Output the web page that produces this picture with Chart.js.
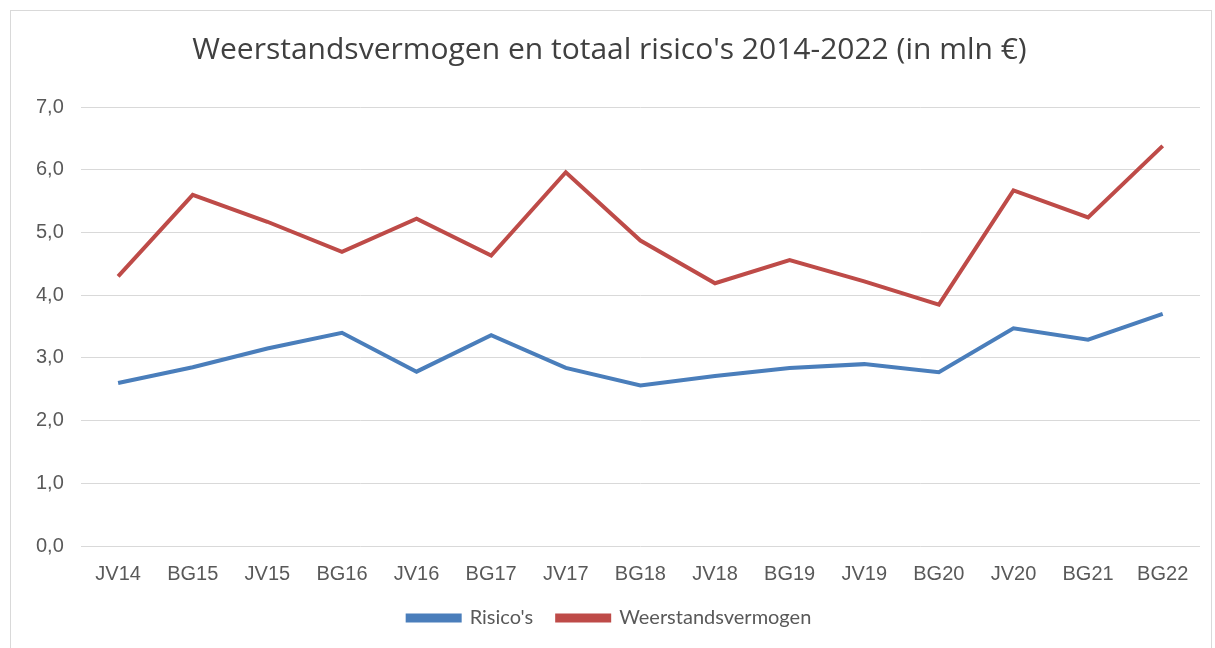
<!DOCTYPE html>
<html>
<head>
<meta charset="utf-8">
<script src="https://cdn.jsdelivr.net/npm/chart.js@4.4.1/dist/chart.umd.min.js"></script>
<style>
  html, body { margin: 0; padding: 0; background: #fff; }
  #wrap { position: relative; width: 1215px; height: 648px; }
</style>
</head>
<body>
<div id="wrap"><canvas id="chartRisico"></canvas></div>
<script>
  var categories = ['JV14', 'BG15', 'JV15', 'BG16', 'JV16', 'BG17', 'JV17', 'BG18', 'JV18', 'BG19', 'JV19', 'BG20', 'JV20', 'BG21', 'BG22'];
  var risicos = [2.60, 2.85, 3.15, 3.40, 2.78, 3.36, 2.84, 2.56, 2.71, 2.84, 2.90, 2.77, 3.47, 3.29, 3.70];
  var weerstand = [4.30, 5.60, 5.17, 4.69, 5.22, 4.63, 5.96, 4.87, 4.19, 4.56, 4.22, 3.85, 5.67, 5.24, 6.38];
  var yTickLabels = ['0,0', '1,0', '2,0', '3,0', '4,0', '5,0', '6,0', '7,0'];

  // kader rond de grafiek
  var kader = {
    id: 'kader',
    beforeDraw: function (chart) {
      var ctx = chart.ctx;
      ctx.save();
      ctx.strokeStyle = '#d9d9d9';
      ctx.lineWidth = 1;
      ctx.strokeRect(10.5, 10.5, 1201, 660);
      ctx.restore();
    }
  };

  var ctx = document.getElementById('chartRisico');
  new Chart(ctx, {
    type: 'line',
    data: {
      labels: categories,
      datasets: [
        {
          label: "Risico's",
          data: risicos,
          borderColor: '#4a7ebb',
          backgroundColor: '#4a7ebb',
          borderWidth: 4,
          pointRadius: 0,
          tension: 0
        },
        {
          label: 'Weerstandsvermogen',
          data: weerstand,
          borderColor: '#be4b48',
          backgroundColor: '#be4b48',
          borderWidth: 4,
          pointRadius: 0,
          tension: 0
        }
      ]
    },
    options: {
      responsive: true,
      maintainAspectRatio: false,
      animation: false,
      layout: {
        autoPadding: false,
        padding: { left: 19, right: 15, top: 32, bottom: 10 }
      },
      scales: {
        x: {
          offset: true,
          grid: { display: false, drawTicks: false },
          border: { display: false },
          ticks: {
            padding: 16,
            color: '#595959',
            maxRotation: 0,
            font: { family: 'Liberation Sans', size: 20 }
          },
          afterFit: function (scale) { scale.height = 38; }
        },
        y: {
          min: 0,
          max: 7,
          grid: { color: '#d9d9d9', lineWidth: 1, drawTicks: false },
          border: { display: false },
          ticks: {
            stepSize: 1,
            padding: 17,
            color: '#595959',
            font: { family: 'Liberation Sans', size: 20 },
            callback: function (value) { return yTickLabels[value]; }
          }
        }
      },
      plugins: {
        title: {
          display: true,
          text: "Weerstandsvermogen en totaal risico's 2014-2022 (in mln €)",
          color: '#404040',
          padding: { top: 0, bottom: 39 },
          font: { family: 'Open Sans', size: 30, weight: 'normal' }
        },
        legend: {
          display: true,
          position: 'bottom',
          labels: {
            color: '#595959',
            boxWidth: 52,
            boxHeight: 5,
            padding: 24,
            font: { family: 'Lato', size: 20 }
          }
        },
        tooltip: { enabled: false }
      }
    },
    plugins: [kader]
  });
</script>
</body>
</html>
